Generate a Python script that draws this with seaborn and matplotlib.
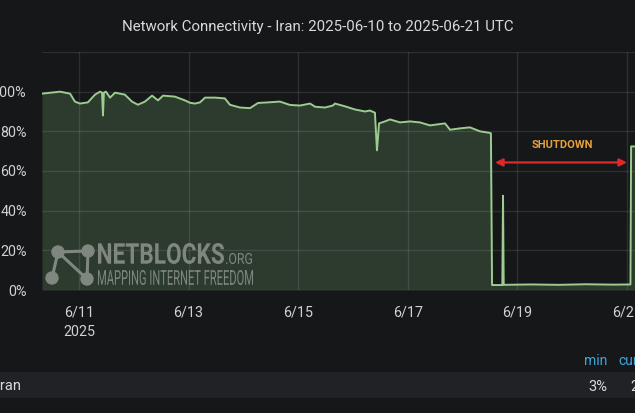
import matplotlib

matplotlib.use("Agg")
import matplotlib.pyplot as plt
import pandas as pd
import seaborn as sns
from matplotlib.font_manager import FontProperties
from matplotlib.lines import Line2D
from matplotlib.patches import Circle, PathPatch, Rectangle
from matplotlib.textpath import TextPath
from matplotlib.transforms import Affine2D

W, H, DPI = 635, 413, 100
BG = "#161719"
ROW_BG = "#212226"
FILL = "#2c3b2e"
LINE = "#9ccc90"
TEXT = "#cfd2d6"
WATERMARK = "#808780"

# connectivity readings (UTC)
TIMES = [
    "2025-06-10 07:48", "2025-06-10 15:42", "2025-06-10 20:06", "2025-06-10 22:12",
    "2025-06-11 00:24", "2025-06-11 03:54", "2025-06-11 07:00", "2025-06-11 09:12",
    "2025-06-11 10:06", "2025-06-11 10:30", "2025-06-11 10:54", "2025-06-11 11:48",
    "2025-06-11 13:36", "2025-06-11 15:48", "2025-06-11 20:06", "2025-06-11 23:12",
    "2025-06-12 01:48", "2025-06-12 04:54", "2025-06-12 08:00", "2025-06-12 10:36",
    "2025-06-12 12:48", "2025-06-12 18:00", "2025-06-12 22:24", "2025-06-13 00:36",
    "2025-06-13 02:48", "2025-06-13 05:00", "2025-06-13 07:12", "2025-06-13 11:36",
    "2025-06-13 15:54", "2025-06-13 18:06", "2025-06-13 22:30", "2025-06-14 02:54",
    "2025-06-14 06:24", "2025-06-14 09:30", "2025-06-14 16:00", "2025-06-14 20:24",
    "2025-06-15 00:48", "2025-06-15 05:12", "2025-06-15 07:24", "2025-06-15 11:42",
    "2025-06-15 15:12", "2025-06-15 16:06", "2025-06-15 20:30", "2025-06-16 00:54",
    "2025-06-16 05:18", "2025-06-16 07:24", "2025-06-16 09:36", "2025-06-16 10:30",
    "2025-06-16 11:24", "2025-06-16 14:00", "2025-06-16 16:12", "2025-06-16 20:36",
    "2025-06-17 01:00", "2025-06-17 05:18", "2025-06-17 09:42", "2025-06-17 16:18",
    "2025-06-17 18:30", "2025-06-17 22:54", "2025-06-18 03:12", "2025-06-18 07:36",
    "2025-06-18 12:00", "2025-06-18 12:24", "2025-06-18 12:54", "2025-06-18 17:24",
    "2025-06-18 17:42", "2025-06-18 18:00", "2025-06-19 06:00", "2025-06-19 18:00",
    "2025-06-20 06:00", "2025-06-20 18:00", "2025-06-21 01:30", "2025-06-21 01:48",
    "2025-06-21 03:30",
]
CONNECTIVITY = [
    99, 100, 99, 95,
    94, 94.6, 98.5, 100,
    99.5, 88, 99.5, 100,
    97, 99.5, 98.5, 95,
    93.4, 95, 98, 95.6,
    98, 97.5, 95.6, 94.4,
    94, 94.6, 97, 97,
    96.6, 93.4, 92, 91.7,
    94.3, 94.5, 95, 93.3,
    93, 94, 92.4, 92,
    93, 94, 92.6, 91,
    90, 90.5, 89.4, 70.4,
    84, 85, 86, 84.5,
    85, 84.5, 83, 84,
    80.8, 81.5, 82, 80,
    79.2, 79, 2.5, 2.5,
    47.5, 2.6, 2.8, 2.6,
    2.9, 2.7, 2.8, 72.4,
    72.4,
]

X_TICKS = ["2025-06-11", "2025-06-13", "2025-06-15", "2025-06-17", "2025-06-19", "2025-06-21"]
X_TICK_LABELS = ["6/11\n2025", "6/13", "6/15", "6/17", "6/19", "6/21"]
Y_TICKS = [0, 20, 40, 60, 80, 100, 120]
Y_TICK_LABELS = ["0%", "20%", "40%", "60%", "80%", "100%", ""]
X_RANGE = ["2025-06-10 07:48", "2025-06-21 03:30"]

SHUTDOWN_START = "2025-06-18 14:12"
SHUTDOWN_END = "2025-06-21 00:00"
SHUTDOWN_LABEL_AT = "2025-06-19 19:30"


def setup_style() -> None:
    sns.set_theme(style="dark")
    plt.rcParams["font.family"] = ["Roboto", "DejaVu Sans"]
    plt.rcParams["figure.facecolor"] = BG
    plt.rcParams["axes.facecolor"] = BG
    plt.rcParams["savefig.facecolor"] = BG


def fit_text(fig, pix, text, x0, y_top, x1, y_base, weight="bold"):
    tp = TextPath((0, 0), text, size=1, prop=FontProperties(family="Roboto", weight=weight))
    ext = tp.get_extents()
    tr = (
        Affine2D()
        .translate(-ext.x0, -ext.y0)
        .scale((x1 - x0) / ext.width, (y_base - y_top) / ext.height)
        .translate(x0, H - y_base)
        + pix
    )
    fig.add_artist(PathPatch(tp, transform=tr, facecolor=WATERMARK, edgecolor="none", zorder=5))


def draw_watermark(fig, pix) -> None:
    nodes = {"tl": (58, 252), "tr": (88, 251), "bl": (52, 278), "br": (87, 279)}
    for a, b in [("tl", "tr"), ("tl", "bl"), ("tl", "br"), ("tr", "br")]:
        (xa, ya), (xb, yb) = nodes[a], nodes[b]
        fig.add_artist(Line2D([xa, xb], [H - ya, H - yb], transform=pix,
                              color=WATERMARK, lw=2.2, zorder=5))
    for x, y in nodes.values():
        fig.add_artist(Circle((x, H - y), 6, transform=pix, color=WATERMARK, zorder=5))
    fit_text(fig, pix, "NETBLOCKS", 98, 243, 224, 264)
    fit_text(fig, pix, ".ORG", 226, 253, 252, 264, weight="normal")
    fit_text(fig, pix, "MAPPING INTERNET FREEDOM", 98, 270, 253, 285, weight="normal")


def main() -> None:
    setup_style()
    df = pd.DataFrame({"time": pd.to_datetime(TIMES), "value": CONNECTIVITY})

    fig = plt.figure(figsize=(W / DPI, H / DPI), dpi=DPI)
    pix = Affine2D().scale(1 / DPI) + fig.dpi_scale_trans
    ax = fig.add_axes([42 / W, 1 - 290 / H, 1 - 42 / W, (290 - 52) / H])

    ax.fill_between(df["time"], df["value"], 0, color=FILL, lw=0, zorder=1)
    sns.lineplot(data=df, x="time", y="value", ax=ax, color=LINE, lw=1.4,
                 estimator=None, zorder=3)

    ax.set_xlim(pd.to_datetime(X_RANGE))
    ax.set_ylim(0, 120)
    ax.set_xticks(pd.to_datetime(X_TICKS))
    ax.set_xticklabels(X_TICK_LABELS, linespacing=1.55)
    ax.set_yticks(Y_TICKS)
    ax.set_yticklabels(Y_TICK_LABELS)
    ax.tick_params(axis="both", length=0, colors=TEXT, labelsize=10.3)
    ax.tick_params(axis="x", pad=11)
    ax.tick_params(axis="y", pad=11)
    ax.set_axisbelow(False)
    ax.grid(True, color="white", alpha=0.1, lw=1)
    ax.set_xlabel("")
    ax.set_ylabel("")
    for spine in ax.spines.values():
        spine.set_visible(False)

    ax.annotate("", xy=(pd.Timestamp(SHUTDOWN_START), 64.3),
                xytext=(pd.Timestamp(SHUTDOWN_END), 64.3),
                arrowprops=dict(arrowstyle="<|-|>", color="#e0282b", lw=1.6,
                                mutation_scale=11, shrinkA=0, shrinkB=0))
    ax.text(pd.Timestamp(SHUTDOWN_LABEL_AT), 73, "SHUTDOWN", color="#e8a23c",
            fontsize=8, fontweight="bold", ha="center", va="center")

    draw_watermark(fig, pix)

    fig.text(318 / W, 1 - 27 / H, "Network Connectivity - Iran: 2025-06-10 to 2025-06-21 UTC",
             ha="center", va="center", color="#d8d9da", fontsize=10.8)

    fig.add_artist(Rectangle((0, H - 398), W, 26.5, transform=pix,
                             color=ROW_BG, lw=0, zorder=0))
    fig.text(-3 / W, 1 - 386 / H, "Iran", ha="left", va="center", color="#d8d9da", fontsize=10.5)
    fig.text(607 / W, 1 - 361 / H, "min", ha="right", va="center", color="#3ea6dd", fontsize=10)
    fig.text(618 / W, 1 - 361 / H, "cur", ha="left", va="center", color="#3ea6dd", fontsize=10)
    fig.text(607 / W, 1 - 387 / H, "3%", ha="right", va="center", color="#d8d9da", fontsize=10.5)
    fig.text(630 / W, 1 - 387 / H, "2%", ha="left", va="center", color="#d8d9da", fontsize=10.5)

    fig.savefig("out.png", dpi=DPI)
    plt.close(fig)


if __name__ == "__main__":
    main()
